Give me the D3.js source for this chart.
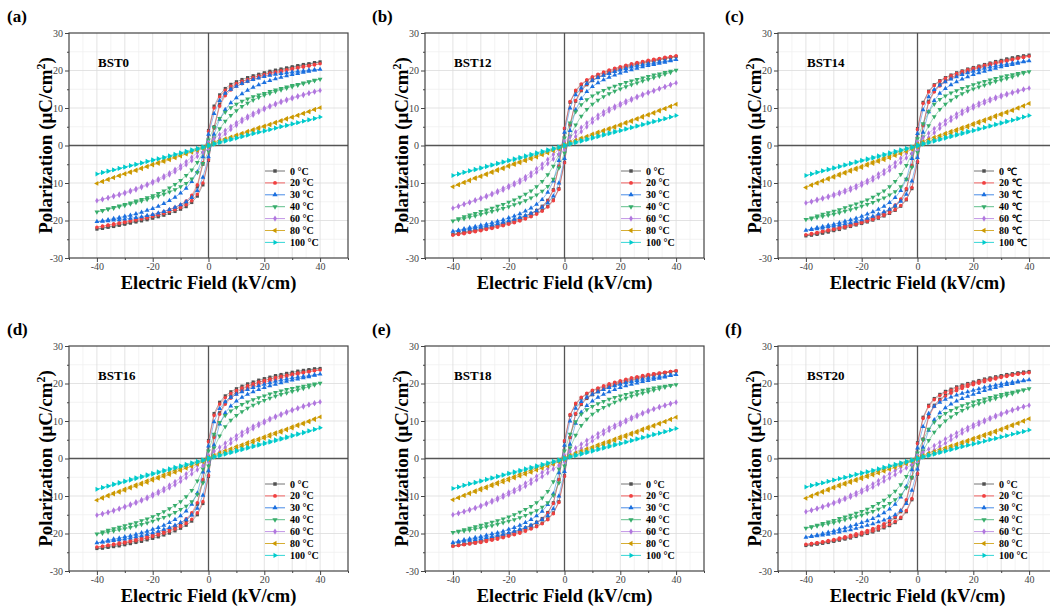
<!DOCTYPE html>
<html>
<head>
<meta charset="utf-8">
<script src="https://cdn.jsdelivr.net/npm/d3@7"></script>
<style>
  body { margin: 0; background: #fff; }
  svg { display: block; font-family: "Times New Roman", "Liberation Serif", serif; }
</style>
</head>
<body>
<script>
// field points of one quarter branch, kV/cm
const fieldKV = [0, 2, 4, 6, 8, 10, 12, 14, 16, 18, 20, 22, 24, 26, 28, 30, 32, 34, 36, 38, 40];

const temps = ['0', '20', '30', '40', '60', '80', '100'];
const samples = ['BST0', 'BST12', 'BST14', 'BST16', 'BST18', 'BST20'];
const panelTags = ['(a)', '(b)', '(c)', '(d)', '(e)', '(f)'];
const xTicks = [-40, -20, 0, 20, 40];
const yTicks = [-30, -20, -10, 0, 10, 20, 30];

// upper (descending) branch at positive field, one row per temperature
const bst0Up = [
  [4.0,10.5,13.5,15.2,16.3,17.0,17.6,18.1,18.6,19.0,19.4,19.8,20.1,20.4,20.7,21.0,21.3,21.6,21.8,22.1,22.3],
  [3.8,10.0,13.0,14.7,15.8,16.5,17.1,17.6,18.1,18.5,18.9,19.3,19.6,19.9,20.2,20.5,20.8,21.1,21.3,21.6,21.8],
  [3.0,8.5,12.0,13.9,15.0,15.8,16.5,17.1,17.6,18.0,18.4,18.7,19.0,19.2,19.4,19.6,19.8,19.9,20.1,20.2,20.3],
  [1.5,4.8,7.2,8.9,10.1,11.0,11.8,12.4,13.0,13.5,13.9,14.4,14.8,15.2,15.6,16.0,16.3,16.7,17.0,17.4,17.7],
  [0.8,1.8,2.9,4.0,5.1,6.1,7.0,7.8,8.6,9.3,10.0,10.6,11.2,11.8,12.3,12.8,13.2,13.6,14.0,14.4,14.7],
  [0.3,0.8,1.3,1.8,2.3,2.8,3.3,3.8,4.3,4.8,5.2,5.7,6.2,6.7,7.2,7.6,8.1,8.6,9.1,9.6,10.1],
  [0.2,0.6,1.0,1.4,1.8,2.1,2.5,2.9,3.3,3.6,4.0,4.3,4.7,5.1,5.4,5.8,6.1,6.5,6.9,7.2,7.6]
];
// lower (ascending) branch at positive field
const bst0Lo = [
  [-4.0,5.0,11.0,13.8,15.3,16.3,17.0,17.6,18.1,18.6,19.0,19.4,19.8,20.1,20.5,20.8,21.1,21.4,21.7,22.0,22.3],
  [-3.8,4.6,10.5,13.3,14.8,15.8,16.5,17.1,17.6,18.1,18.5,18.9,19.3,19.6,20.0,20.3,20.6,20.9,21.2,21.5,21.8],
  [-3.0,3.0,7.0,9.6,11.4,12.7,13.8,14.7,15.5,16.2,16.8,17.3,17.8,18.2,18.6,18.9,19.2,19.5,19.8,20.1,20.3],
  [-1.5,2.0,4.5,6.5,8.0,9.3,10.4,11.3,12.1,12.8,13.4,13.9,14.4,14.8,15.3,15.7,16.1,16.5,16.9,17.3,17.7],
  [-0.8,0.6,1.9,3.1,4.3,5.4,6.4,7.3,8.1,8.9,9.6,10.3,10.9,11.5,12.0,12.5,13.0,13.4,13.9,14.3,14.7],
  [-0.3,0.4,0.9,1.5,2.0,2.5,3.0,3.5,4.0,4.5,5.0,5.5,6.0,6.5,7.0,7.5,8.0,8.5,9.0,9.6,10.1],
  [-0.2,0.3,0.7,1.1,1.5,1.9,2.3,2.7,3.1,3.5,3.8,4.2,4.6,5.0,5.3,5.7,6.1,6.5,6.8,7.2,7.6]
];

const bst12Up = [
  [4.5,11.5,14.5,16.2,17.3,18.1,18.8,19.4,19.9,20.4,20.8,21.2,21.6,21.9,22.2,22.5,22.8,23.0,23.3,23.5,23.7],
  [4.6,11.7,14.7,16.4,17.5,18.3,19.0,19.6,20.1,20.6,21.0,21.4,21.8,22.1,22.4,22.7,23.0,23.2,23.5,23.7,23.9],
  [3.5,10.0,13.5,15.3,16.5,17.4,18.1,18.7,19.2,19.7,20.1,20.5,20.9,21.2,21.5,21.8,22.0,22.3,22.5,22.7,22.9],
  [2.0,6.0,9.0,10.9,12.2,13.2,14.0,14.7,15.3,15.8,16.3,16.8,17.2,17.6,18.0,18.4,18.8,19.1,19.5,19.8,20.1],
  [1.0,2.3,3.6,4.8,6.0,7.1,8.1,9.0,9.8,10.5,11.2,11.9,12.5,13.1,13.7,14.2,14.7,15.2,15.7,16.2,16.7],
  [0.3,0.9,1.4,2.0,2.5,3.1,3.6,4.1,4.6,5.1,5.6,6.2,6.7,7.2,7.8,8.3,8.8,9.4,9.9,10.5,11.0],
  [0.2,0.6,1.0,1.4,1.8,2.2,2.6,3.0,3.4,3.8,4.1,4.5,4.9,5.3,5.7,6.1,6.5,6.8,7.2,7.6,8.0]
];
const bst12Lo = [
  [-4.5,5.5,11.8,14.6,16.2,17.3,18.1,18.8,19.4,19.9,20.4,20.8,21.2,21.6,21.9,22.2,22.5,22.8,23.1,23.4,23.7],
  [-4.6,5.6,12.0,14.8,16.4,17.5,18.3,19.0,19.6,20.1,20.6,21.0,21.4,21.8,22.1,22.4,22.7,23.0,23.3,23.6,23.9],
  [-3.5,4.0,9.5,12.5,14.4,15.7,16.7,17.5,18.2,18.8,19.3,19.8,20.2,20.6,21.0,21.3,21.6,21.9,22.2,22.6,22.9],
  [-2.0,2.5,5.5,7.8,9.6,11.0,12.1,13.0,13.8,14.5,15.1,15.7,16.2,16.7,17.2,17.6,18.1,18.5,19.0,19.5,20.1],
  [-1.0,1.0,2.4,3.7,5.0,6.2,7.3,8.3,9.2,10.0,10.7,11.4,12.1,12.8,13.4,14.0,14.5,15.1,15.6,16.2,16.7],
  [-0.3,0.4,1.0,1.6,2.2,2.7,3.2,3.8,4.3,4.8,5.3,5.9,6.4,7.0,7.5,8.1,8.6,9.2,9.8,10.4,11.0],
  [-0.2,0.3,0.7,1.1,1.5,1.9,2.3,2.7,3.1,3.5,3.9,4.3,4.7,5.1,5.5,5.9,6.3,6.7,7.1,7.6,8.0]
];

const bst14Up = [
  [4.5,11.5,14.5,16.2,17.3,18.1,18.8,19.4,19.9,20.4,20.8,21.2,21.6,22.0,22.4,22.7,23.1,23.4,23.7,23.9,24.1],
  [4.3,11.2,14.3,16.0,17.1,17.9,18.6,19.2,19.7,20.2,20.6,21.0,21.4,21.8,22.1,22.4,22.7,23.0,23.3,23.6,23.8],
  [3.2,9.5,13.0,14.9,16.1,17.0,17.7,18.3,18.9,19.4,19.8,20.2,20.6,20.9,21.2,21.5,21.7,22.0,22.2,22.4,22.6],
  [1.8,5.8,9.0,11.0,12.3,13.2,14.0,14.6,15.2,15.7,16.2,16.7,17.1,17.5,17.9,18.3,18.6,18.9,19.2,19.5,19.7],
  [0.9,2.1,3.3,4.5,5.6,6.6,7.5,8.4,9.2,9.9,10.6,11.3,11.9,12.4,12.9,13.4,13.8,14.2,14.6,15.0,15.3],
  [0.4,1.0,1.6,2.2,2.7,3.3,3.8,4.3,4.8,5.3,5.9,6.4,6.9,7.4,8.0,8.5,9.0,9.5,10.1,10.6,11.2],
  [0.2,0.6,1.0,1.4,1.8,2.2,2.6,3.0,3.4,3.8,4.1,4.5,4.9,5.3,5.7,6.1,6.5,6.8,7.2,7.6,8.0]
];
const bst14Lo = [
  [-4.5,5.5,11.8,14.6,16.2,17.3,18.1,18.8,19.4,19.9,20.4,20.8,21.2,21.6,22.0,22.4,22.8,23.1,23.5,23.8,24.1],
  [-4.3,5.3,11.5,14.3,15.9,17.0,17.9,18.6,19.2,19.7,20.2,20.6,21.0,21.4,21.8,22.1,22.5,22.8,23.2,23.5,23.8],
  [-3.2,3.5,9.0,12.0,13.9,15.2,16.2,17.0,17.7,18.3,18.9,19.4,19.8,20.2,20.6,21.0,21.3,21.6,21.9,22.3,22.6],
  [-1.8,2.3,5.3,7.7,9.6,11.0,12.1,13.0,13.8,14.5,15.1,15.6,16.1,16.6,17.1,17.5,17.9,18.3,18.8,19.3,19.7],
  [-0.9,0.8,2.1,3.4,4.6,5.7,6.7,7.6,8.5,9.3,10.0,10.7,11.3,11.9,12.5,13.0,13.5,14.0,14.4,14.9,15.3],
  [-0.4,0.4,1.0,1.6,2.2,2.8,3.3,3.9,4.4,4.9,5.5,6.0,6.5,7.1,7.6,8.2,8.7,9.3,9.9,10.5,11.2],
  [-0.2,0.3,0.7,1.1,1.5,1.9,2.3,2.7,3.1,3.5,3.9,4.3,4.7,5.1,5.5,5.9,6.3,6.7,7.1,7.6,8.0]
];

const bst16Up = [
  [4.8,12.0,15.0,16.7,17.8,18.6,19.3,19.9,20.4,20.9,21.3,21.7,22.1,22.4,22.7,23.0,23.3,23.5,23.7,23.9,24.0],
  [4.5,11.5,14.5,16.2,17.3,18.1,18.8,19.4,19.9,20.4,20.8,21.2,21.6,21.9,22.2,22.5,22.8,23.0,23.2,23.4,23.6],
  [3.3,9.8,13.3,15.1,16.3,17.1,17.8,18.4,18.9,19.4,19.8,20.2,20.6,20.9,21.2,21.5,21.7,21.9,22.1,22.3,22.5],
  [2.0,6.5,9.6,11.5,12.7,13.6,14.4,15.1,15.7,16.2,16.7,17.2,17.6,18.0,18.4,18.7,19.0,19.3,19.6,19.9,20.1],
  [0.8,1.9,3.0,4.1,5.1,6.1,7.0,7.8,8.6,9.3,10.0,10.7,11.3,11.9,12.5,13.0,13.5,14.0,14.4,14.8,15.1],
  [0.3,0.9,1.5,2.1,2.6,3.2,3.7,4.3,4.8,5.3,5.8,6.4,6.9,7.4,7.9,8.5,9.0,9.5,10.0,10.6,11.1],
  [0.2,0.6,1.0,1.4,1.8,2.2,2.6,3.0,3.4,3.8,4.2,4.6,5.0,5.4,5.8,6.2,6.6,7.0,7.4,7.8,8.2]
];
const bst16Lo = [
  [-4.8,6.0,12.2,15.0,16.6,17.7,18.5,19.2,19.8,20.3,20.8,21.2,21.6,22.0,22.3,22.6,22.9,23.2,23.5,23.8,24.0],
  [-4.5,5.6,11.8,14.5,16.1,17.2,18.0,18.7,19.3,19.8,20.3,20.7,21.1,21.5,21.9,22.2,22.5,22.8,23.1,23.4,23.6],
  [-3.3,3.6,9.2,12.2,14.0,15.3,16.3,17.1,17.8,18.4,18.9,19.4,19.8,20.2,20.6,20.9,21.2,21.5,21.8,22.2,22.5],
  [-2.0,2.8,6.0,8.5,10.2,11.5,12.5,13.4,14.2,14.9,15.5,16.1,16.6,17.1,17.5,17.9,18.3,18.7,19.1,19.6,20.1],
  [-0.8,0.7,1.8,3.0,4.1,5.2,6.2,7.1,8.0,8.8,9.5,10.3,11.0,11.6,12.2,12.8,13.3,13.8,14.3,14.7,15.1],
  [-0.3,0.4,1.0,1.6,2.1,2.7,3.2,3.8,4.3,4.9,5.4,5.9,6.5,7.0,7.6,8.1,8.7,9.2,9.8,10.4,11.1],
  [-0.2,0.3,0.7,1.1,1.5,1.9,2.3,2.7,3.1,3.5,3.9,4.3,4.7,5.1,5.5,6.0,6.4,6.8,7.3,7.7,8.2]
];

const bst18Up = [
  [4.6,11.5,14.5,16.1,17.2,18.0,18.6,19.1,19.6,20.1,20.5,20.9,21.3,21.6,21.9,22.2,22.5,22.7,22.9,23.1,23.3],
  [4.7,11.7,14.7,16.3,17.4,18.2,18.8,19.4,19.9,20.3,20.7,21.1,21.5,21.8,22.1,22.4,22.6,22.8,23.0,23.2,23.4],
  [3.5,10.0,13.4,15.2,16.3,17.1,17.8,18.4,18.9,19.4,19.8,20.2,20.5,20.8,21.1,21.4,21.6,21.8,22.0,22.2,22.4],
  [2.0,6.5,9.8,11.8,13.0,13.9,14.6,15.2,15.8,16.3,16.7,17.1,17.5,17.9,18.2,18.5,18.8,19.1,19.3,19.5,19.7],
  [0.8,1.8,2.8,3.8,4.8,5.7,6.6,7.4,8.2,8.9,9.6,10.3,11.0,11.6,12.2,12.8,13.3,13.8,14.2,14.6,15.0],
  [0.3,0.9,1.5,2.0,2.6,3.1,3.7,4.2,4.7,5.2,5.8,6.3,6.8,7.3,7.9,8.4,8.9,9.4,9.9,10.5,11.0],
  [0.2,0.6,1.0,1.4,1.8,2.2,2.6,3.0,3.4,3.8,4.1,4.5,4.9,5.3,5.7,6.1,6.5,6.8,7.2,7.6,8.0]
];
const bst18Lo = [
  [-4.6,5.6,11.8,14.4,16.0,17.0,17.8,18.5,19.1,19.6,20.0,20.4,20.8,21.2,21.6,21.9,22.2,22.5,22.8,23.1,23.3],
  [-4.7,5.7,12.0,14.6,16.2,17.2,18.0,18.7,19.3,19.8,20.2,20.6,21.0,21.4,21.7,22.0,22.3,22.6,22.9,23.2,23.4],
  [-3.5,3.8,9.4,12.3,14.1,15.3,16.3,17.1,17.8,18.4,18.9,19.4,19.8,20.1,20.5,20.8,21.1,21.4,21.7,22.1,22.4],
  [-2.0,2.8,6.2,8.8,10.5,11.8,12.8,13.6,14.3,15.0,15.6,16.1,16.6,17.0,17.4,17.8,18.2,18.6,19.0,19.4,19.7],
  [-0.8,0.6,1.6,2.7,3.7,4.7,5.7,6.6,7.5,8.3,9.0,9.8,10.5,11.2,11.9,12.5,13.1,13.6,14.1,14.6,15.0],
  [-0.3,0.4,1.0,1.5,2.1,2.6,3.2,3.7,4.2,4.8,5.3,5.8,6.4,6.9,7.5,8.0,8.6,9.2,9.8,10.4,11.0],
  [-0.2,0.3,0.7,1.1,1.5,1.9,2.3,2.7,3.1,3.5,3.9,4.3,4.7,5.1,5.5,5.9,6.3,6.7,7.1,7.6,8.0]
];

const bst20Up = [
  [4.2,11.0,14.2,16.0,17.1,17.9,18.5,19.1,19.6,20.0,20.4,20.8,21.2,21.5,21.8,22.1,22.4,22.6,22.8,23.0,23.2],
  [4.0,10.7,13.9,15.7,16.8,17.6,18.2,18.8,19.3,19.7,20.1,20.5,20.9,21.2,21.5,21.8,22.1,22.3,22.5,22.7,22.9],
  [2.8,8.5,12.0,13.9,15.0,15.8,16.4,16.9,17.4,17.8,18.2,18.6,19.0,19.3,19.6,19.9,20.2,20.4,20.6,20.8,21.0],
  [1.5,5.0,7.8,9.7,11.0,12.0,12.8,13.5,14.1,14.6,15.1,15.5,15.9,16.3,16.7,17.1,17.4,17.7,18.0,18.3,18.6],
  [0.7,1.6,2.5,3.4,4.3,5.2,6.0,6.8,7.6,8.3,9.0,9.7,10.3,10.9,11.5,12.0,12.5,13.0,13.4,13.8,14.2],
  [0.3,0.8,1.4,1.9,2.4,2.9,3.4,3.9,4.4,4.9,5.4,5.9,6.4,6.9,7.4,7.9,8.5,9.0,9.5,10.1,10.6],
  [0.2,0.6,1.0,1.4,1.8,2.1,2.5,2.9,3.3,3.6,4.0,4.3,4.7,5.1,5.4,5.8,6.1,6.5,6.9,7.2,7.6]
];
const bst20Lo = [
  [-4.2,5.2,11.3,14.2,15.8,16.9,17.7,18.4,19.0,19.5,20.0,20.4,20.8,21.2,21.5,21.9,22.2,22.5,22.8,23.0,23.2],
  [-4.0,5.0,11.0,13.9,15.5,16.6,17.4,18.1,18.7,19.2,19.7,20.1,20.5,20.9,21.2,21.6,21.9,22.2,22.5,22.7,22.9],
  [-2.8,3.0,7.5,10.3,12.2,13.5,14.5,15.3,16.0,16.6,17.1,17.6,18.1,18.5,18.9,19.3,19.7,20.0,20.4,20.7,21.0],
  [-1.5,2.0,4.8,7.0,8.7,10.0,11.1,12.0,12.8,13.5,14.1,14.6,15.1,15.6,16.0,16.5,16.9,17.3,17.8,18.2,18.6],
  [-0.7,0.5,1.4,2.3,3.2,4.1,5.0,5.9,6.8,7.6,8.4,9.1,9.8,10.5,11.1,11.7,12.3,12.8,13.3,13.8,14.2],
  [-0.3,0.4,0.9,1.4,1.9,2.4,2.9,3.4,3.9,4.5,5.0,5.5,6.0,6.5,7.0,7.6,8.1,8.7,9.3,9.9,10.6],
  [-0.2,0.3,0.7,1.1,1.5,1.9,2.3,2.7,3.1,3.5,3.8,4.2,4.6,5.0,5.3,5.7,6.1,6.5,6.8,7.2,7.6]
];

const upperSets = [bst0Up, bst12Up, bst14Up, bst16Up, bst18Up, bst20Up];
const lowerSets = [bst0Lo, bst12Lo, bst14Lo, bst16Lo, bst18Lo, bst20Lo];

// Origin "Bright" palette
const colors = ['#515151', '#F14040', '#1A6FDF', '#37AD6B', '#B177DE', '#CC9900', '#00CBCC'];
const shapes = [d3.symbolSquare, d3.symbolCircle, d3.symbolTriangle, d3.symbolTriangle, d3.symbolDiamond, d3.symbolTriangle, d3.symbolTriangle];
const shapeRot = [0, 0, 0, 180, 0, -90, 90];
const shapeSize = [10, 10, 10, 10, 10, 10, 10];

const W = 1050, H = 612;
const pw = 279, ph = 225;
const colLeft = [69, 425, 778];
const rowTop = [33, 346];
const tagX = [7, 372, 725];
const serif = '"Times New Roman", "Liberation Serif", serif';

const svg = d3.select('body').append('svg')
  .attr('width', W)
  .attr('height', H);

const x = d3.scaleLinear().domain([-50, 50]).range([0, pw]);
const y = d3.scaleLinear().domain([-30, 30]).range([ph, 0]);

// whole loop: down from +40 to -40, then back up to +40
function loopPoints(up, lo) {
  const n = fieldKV.length;
  const pts = [];
  for (let i = n - 1; i >= 0; i--) pts.push([fieldKV[i], up[i]]);
  for (let i = 1; i < n; i++) pts.push([-fieldKV[i], -lo[i]]);
  for (let i = n - 2; i >= 0; i--) pts.push([-fieldKV[i], -up[i]]);
  for (let i = 1; i < n; i++) pts.push([fieldKV[i], lo[i]]);
  return pts;
}

const line = d3.line().x(d => x(d[0])).y(d => y(d[1]));

samples.forEach(function(name, p) {
  const col = p % 3, row = Math.floor(p / 3);
  const g = svg.append('g').attr('transform', 'translate(' + colLeft[col] + ',' + rowTop[row] + ')');

  // grid, minor first
  g.append('g').selectAll('line').data(d3.range(-45, 50, 10)).enter().append('line')
    .attr('x1', d => x(d)).attr('x2', d => x(d)).attr('y1', 0).attr('y2', ph)
    .attr('stroke', '#f0f0f0').attr('stroke-width', 0.8);
  g.append('g').selectAll('line').data(d3.range(-25, 30, 10)).enter().append('line')
    .attr('y1', d => y(d)).attr('y2', d => y(d)).attr('x1', 0).attr('x2', pw)
    .attr('stroke', '#f0f0f0').attr('stroke-width', 0.8);
  g.append('g').selectAll('line').data(d3.range(-40, 50, 10)).enter().append('line')
    .attr('x1', d => x(d)).attr('x2', d => x(d)).attr('y1', 0).attr('y2', ph)
    .attr('stroke', '#dcdcdc').attr('stroke-width', 0.8);
  g.append('g').selectAll('line').data(d3.range(-20, 30, 10)).enter().append('line')
    .attr('y1', d => y(d)).attr('y2', d => y(d)).attr('x1', 0).attr('x2', pw)
    .attr('stroke', '#dcdcdc').attr('stroke-width', 0.8);

  // zero lines
  g.append('line').attr('x1', x(0)).attr('x2', x(0)).attr('y1', 0).attr('y2', ph)
    .attr('stroke', '#555').attr('stroke-width', 1.3);
  g.append('line').attr('x1', 0).attr('x2', pw).attr('y1', y(0)).attr('y2', y(0))
    .attr('stroke', '#555').attr('stroke-width', 1.3);

  // curves
  temps.forEach(function(t, k) {
    const pts = loopPoints(upperSets[p][k], lowerSets[p][k]);
    g.append('path').datum(pts)
      .attr('d', line)
      .attr('fill', 'none')
      .attr('stroke', colors[k])
      .attr('stroke-width', 0.6)
      .attr('stroke-opacity', 0.8);
    g.append('g').selectAll('path').data(pts.slice(0, -1)).enter().append('path')
      .attr('d', d3.symbol().type(shapes[k]).size(shapeSize[k]))
      .attr('transform', d => 'translate(' + x(d[0]) + ',' + y(d[1]) + ') rotate(' + shapeRot[k] + ')')
      .attr('fill', colors[k]);
  });

  // frame
  g.append('rect').attr('width', pw).attr('height', ph)
    .attr('fill', 'none').attr('stroke', '#444').attr('stroke-width', 1.2);

  // axes
  const xAxis = g.append('g').attr('transform', 'translate(0,' + ph + ')')
    .call(d3.axisBottom(x).tickValues(xTicks).tickSize(4).tickPadding(1).tickFormat(d => String(d)));
  g.append('g').attr('transform', 'translate(0,' + ph + ')')
    .call(d3.axisBottom(x).tickValues([-50, -30, -10, 10, 30, 50]).tickSize(2).tickFormat(''))
    .select('.domain').remove();
  const yAxis = g.append('g')
    .call(d3.axisLeft(y).tickValues(yTicks).tickSize(4).tickPadding(2).tickFormat(d => String(d)));
  g.append('g')
    .call(d3.axisLeft(y).tickValues(d3.range(-25, 30, 10)).tickSize(2).tickFormat(''))
    .select('.domain').remove();
  [xAxis, yAxis].forEach(function(a) {
    a.select('.domain').remove();
    a.selectAll('text').attr('font-size', 10).attr('fill', '#444').attr('font-family', serif);
  });
  g.selectAll('.tick line').attr('stroke', '#444');

  // sample name
  g.append('text').attr('x', 29).attr('y', 34)
    .attr('font-size', 13).attr('font-weight', 'bold').text(name);

  // legend
  const unit = p === 2 ? ' \u2103' : ' \u00B0C';
  const lg = g.append('g').attr('transform', 'translate(196,138)');
  temps.forEach(function(t, k) {
    const r = lg.append('g').attr('transform', 'translate(0,' + (k * 11.9) + ')');
    r.append('line').attr('x1', 0).attr('x2', 20).attr('y1', 0).attr('y2', 0)
      .attr('stroke', colors[k]).attr('stroke-width', 0.8);
    r.append('path').attr('d', d3.symbol().type(shapes[k]).size(12))
      .attr('transform', 'translate(10,0) rotate(' + shapeRot[k] + ')')
      .attr('fill', colors[k]);
    r.append('text').attr('x', 25).attr('y', 3.5)
      .attr('font-size', 10).attr('font-weight', 'bold').text(t + unit);
  });

  // axis titles
  g.append('text').attr('x', pw / 2).attr('y', ph + 31)
    .attr('text-anchor', 'middle').attr('font-size', 18.5).attr('font-weight', 'bold')
    .text('Electric Field (kV/cm)');
  const yt = g.append('text')
    .attr('transform', 'translate(-17,' + (ph / 2) + ') rotate(-90)')
    .attr('text-anchor', 'middle').attr('font-size', 19).attr('font-weight', 'bold');
  yt.append('tspan').text('Polarization (\u03BCC/cm');
  yt.append('tspan').attr('font-size', 12).attr('dy', -7).text('2');
  yt.append('tspan').attr('dy', 7).text(')');

  // panel tag
  svg.append('text').attr('x', tagX[col]).attr('y', rowTop[row] - 11)
    .attr('font-size', 17).attr('font-weight', 'bold').text(panelTags[p]);
});
</script>
</body>
</html>
